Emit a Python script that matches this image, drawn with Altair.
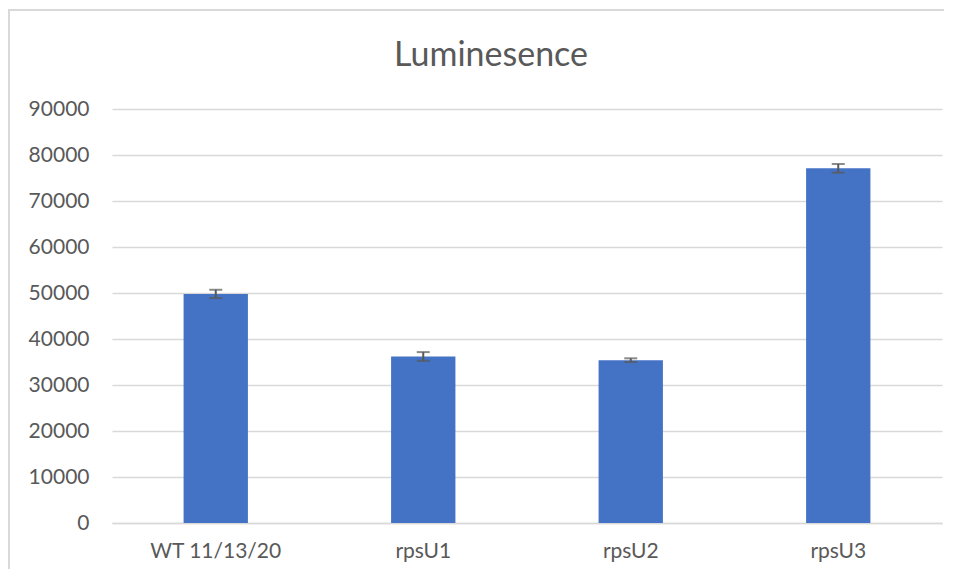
import altair as alt
import pandas as pd

categories = ["WT 11/13/20", "rpsU1", "rpsU2", "rpsU3"]
values = [49800, 36200, 35400, 77100]
errors = [900, 950, 400, 950]
title_text = "Luminesence"

df = pd.DataFrame({
    "cat": categories,
    "val": values,
    "lo": [v - e for v, e in zip(values, errors)],
    "hi": [v + e for v, e in zip(values, errors)],
})

FONT = "Lato"
GREY = "#595959"

x_enc = alt.X("cat:N", sort=categories, title=None,
              scale=alt.Scale(paddingInner=0.69, paddingOuter=0.345),
              axis=alt.Axis(labelAngle=0, labelFontSize=21, labelColor=GREY, labelFont=FONT,
                            domainColor="#d9d9d9", domainWidth=1.5, ticks=False, labelPadding=17))
y_scale = alt.Scale(domain=[0, 90000], nice=False)

bars = alt.Chart(df).mark_bar(color="#4472C4").encode(
    x=x_enc,
    y=alt.Y("val:Q", scale=y_scale, title=None,
            axis=alt.Axis(values=list(range(0, 90001, 10000)), labelFontSize=21, labelColor=GREY,
                          labelFont=FONT, gridColor="#d9d9d9", gridWidth=1.5, domain=False,
                          ticks=False, labelPadding=23, format="d")),
)

err = alt.Chart(df).mark_errorbar(ticks=alt.MarkConfig(size=13, color=GREY, strokeWidth=2),
                                  color=GREY, thickness=2).encode(
    x=alt.X("cat:N", sort=categories),
    y=alt.Y("lo:Q", scale=y_scale),
    y2="hi:Q",
)

frame = alt.Chart(df).mark_rect(fill=None, stroke="#d9d9d9", strokeWidth=1.5).encode(
    x=alt.value(-103), x2=alt.value(860), y=alt.value(-99), y2=alt.value(480)
)

title_df = pd.DataFrame({"t": [title_text]})
title = alt.Chart(title_df).mark_text(font=FONT, fontSize=34, color=GREY, align="center",
                                      baseline="alphabetic").encode(
    text="t:N", x=alt.value(379), y=alt.value(-43)
)

chart = alt.layer(frame, bars, err, title).properties(
    width=830, height=414,
    padding={"left": 104, "top": 101, "right": 2, "bottom": 46},
    autosize=alt.AutoSizeParams(type="none"),
).configure_view(stroke=None).configure_axis(labelFont=FONT)

chart.save("out.html", embed_options={"renderer": "svg", "actions": False})
